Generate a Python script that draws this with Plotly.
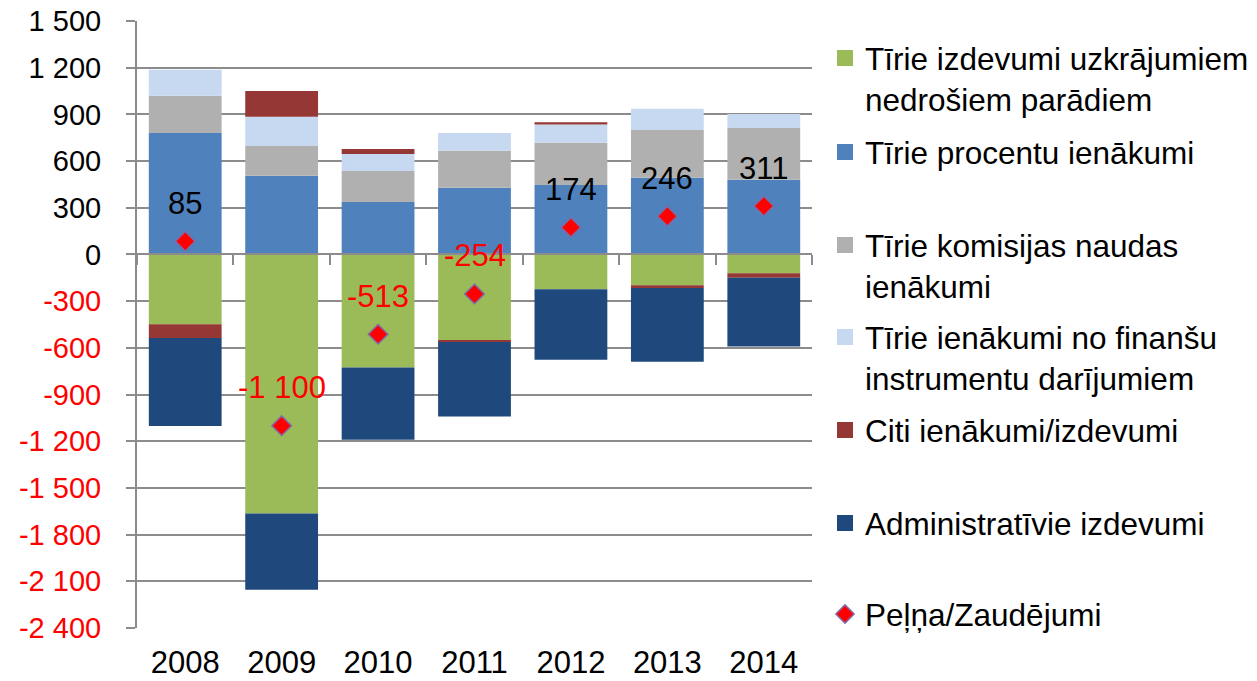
import plotly.graph_objects as go

years = ["2008", "2009", "2010", "2011", "2012", "2013", "2014"]

provisions = [-449, -1665, -726, -552, -223, -198, -120]
interest = [781, 506, 337, 429, 446, 493, 480]
commissions = [238, 191, 199, 238, 271, 307, 333]
fin_instr = [168, 187, 110, 114, 118, 136, 90]
other = [-88, 167, 32, -11, 15, -17, -30]
admin = [-565, -490, -465, -478, -454, -475, -442]
profit = [85, -1100, -513, -254, 174, 246, 311]

names = [
    "Tīrie izdevumi uzkrājumiem<br>nedrošiem parādiem",
    "Tīrie procentu ienākumi",
    "Tīrie komisijas naudas<br>ienākumi",
    "Tīrie ienākumi no finanšu<br>instrumentu darījumiem",
    "Citi ienākumi/izdevumi",
    "Administratīvie izdevumi",
    "Peļņa/Zaudējumi",
]
colors = ["#9BBB59", "#4F81BD", "#B0B0B0", "#C6D9F1", "#953735", "#1F497D"]
series = [provisions, interest, commissions, fin_instr, other, admin]

tick_vals = list(range(-2400, 1501, 300))

FONT = "Liberation Sans, Arial, sans-serif"


def fmt(v):
    return f"{v:,}".replace(",", " ")


tick_text = [
    (f'<span style="color:#FF0000">{fmt(v)}</span>' if v < 0 else fmt(v))
    for v in tick_vals
]

fig = go.Figure()

for s, c in zip(series, colors):
    fig.add_trace(go.Bar(x=years, y=s, marker=dict(color=c, line=dict(width=0)),
                         showlegend=False, xaxis="x", yaxis="y"))

fig.add_trace(go.Scatter(
    x=years, y=profit, mode="markers", xaxis="x2", yaxis="y",
    marker=dict(symbol="diamond", size=15, color="#FF0000",
                line=dict(color="#7F6AA8", width=1.5)),
    showlegend=False,
))

# legend proxies (one legend per entry for Excel-like spacing)
PLOT_TOP, PLOT_BOT = 21, 628
H = PLOT_BOT - PLOT_TOP
centers = [57, 151, 244, 336, 429, 522, 613]
legend_layout = {}
for i, name in enumerate(names):
    key = "legend" if i == 0 else f"legend{i + 1}"
    if i < 6:
        mk = dict(symbol="square", size=16, color=colors[i], line=dict(width=0))
    else:
        mk = dict(symbol="diamond", size=14, color="#FF0000",
                  line=dict(color="#7F6AA8", width=1.5))
    fig.add_trace(go.Scatter(x=[None], y=[None], mode="markers", marker=mk,
                             xaxis="x2", yaxis="y",
                             name=name, showlegend=True, legend=key))
    top_px = centers[i] - 26
    legend_layout[key] = dict(
        x=(825 - 137) / 675, y=(PLOT_BOT - top_px) / H,
        xanchor="left", yanchor="top", valign="top",
        bgcolor="rgba(0,0,0,0)", borderwidth=0,
        font=dict(family=FONT, size=31.5, color="#000000"),
        itemclick=False, itemdoubleclick=False,
    )

for i, v in enumerate(profit):
    fig.add_annotation(x=i, y=v, xref="x", yref="y", text=fmt(v),
                       showarrow=False, yshift=38,
                       font=dict(family=FONT, size=31,
                                 color="#FF0000" if v < 0 else "#000000"))

fig.update_layout(
    width=1257, height=681,
    margin=dict(l=137, r=445, t=21, b=53, autoexpand=False),
    paper_bgcolor="white", plot_bgcolor="white",
    barmode="relative", bargap=0.245,
    font=dict(family=FONT, color="#000000"),
    xaxis=dict(
        type="category", categoryorder="array", categoryarray=years,
        range=[-0.5, 6.5],
        showline=False, ticks="", showgrid=False, zeroline=False,
        tickfont=dict(family=FONT, size=31, color="#000000"),
        ticklabelstandoff=13,
    ),
    xaxis2=dict(
        type="category", categoryorder="array", categoryarray=years,
        range=[-0.5, 6.5],
        overlaying="x", anchor="free", side="bottom",
        position=2400 / 3900,
        showline=True, linecolor="#8C8C8C", linewidth=2,
        ticks="outside", tickson="boundaries", ticklen=10,
        tickcolor="#8C8C8C", tickwidth=2,
        showticklabels=False, showgrid=False, zeroline=False,
    ),
    yaxis=dict(
        range=[-2400, 1500], tickvals=tick_vals, ticktext=tick_text,
        showgrid=True, gridcolor="#8C8C8C", gridwidth=1.5,
        showline=True, linecolor="#8C8C8C", linewidth=2,
        ticks="outside", ticklen=9, tickcolor="#8C8C8C", tickwidth=1.5,
        zeroline=False,
        tickfont=dict(family=FONT, size=29, color="#000000"),
        ticklabelstandoff=19,
    ),
    **legend_layout,
)

fig.write_html(
    "out.html",
    config={"displayModeBar": False},
    post_script="document.body.style.margin='0';document.body.style.padding='0';",
)
